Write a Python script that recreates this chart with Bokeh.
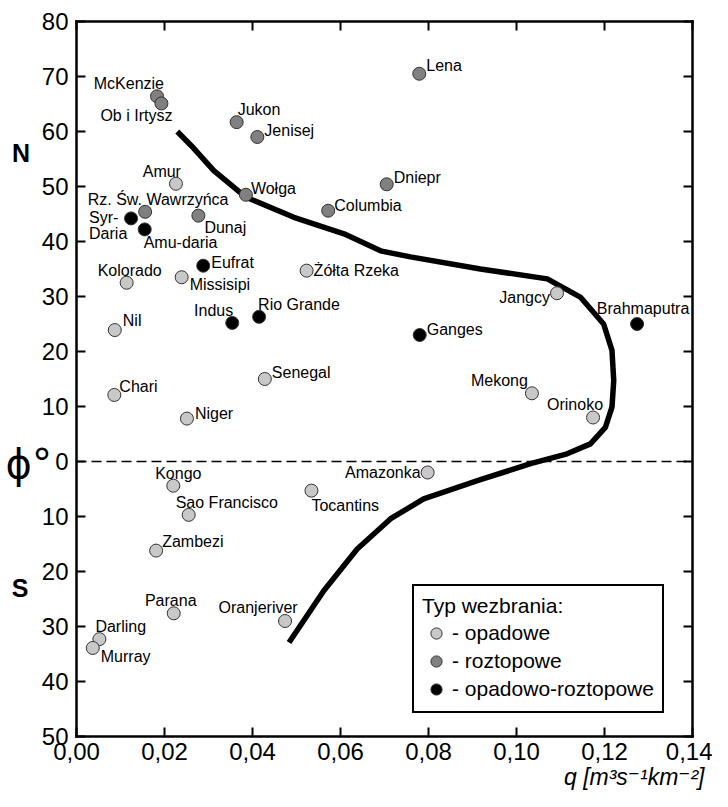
from bokeh.plotting import figure
from bokeh.models import (ColumnDataSource, FixedTicker, LinearAxis, Label,
                          Legend, LegendItem)
from bokeh.core.properties import value
from bokeh.embed import file_html
from bokeh.resources import INLINE

# ---------------- data ----------------
RIVERS = ["McKenzie", "Ob i Irtysz", "Jukon", "Jenisej", "Amur", "Wołga", "Dniepr",
          "Columbia", "Rz. Św. Wawrzyńca", "Syr-\nDaria", "Amu-daria", "Dunaj", "Lena",
          "Eufrat", "Kolorado", "Missisipi", "Żółta Rzeka", "Indus", "Rio Grande", "Nil",
          "Senegal", "Chari", "Niger", "Jangcy", "Brahmaputra", "Ganges", "Mekong",
          "Orinoko", "Amazonka", "Tocantins", "Kongo", "Sao Francisco", "Zambezi",
          "Parana", "Oranjeriver", "Darling", "Murray"]
Q = [0.0183, 0.0193, 0.0364, 0.0411, 0.0226, 0.0385, 0.0705,
     0.0572, 0.0156, 0.0124, 0.0155, 0.0277, 0.0779,
     0.0288, 0.0114, 0.0239, 0.0523, 0.0354, 0.0415, 0.0087,
     0.0428, 0.0086, 0.0251, 0.1092, 0.1274, 0.0780, 0.1035,
     0.1174, 0.0798, 0.0534, 0.0220, 0.0255, 0.0181,
     0.0221, 0.0474, 0.0052, 0.0037]
LAT = [66.4, 65.1, 61.7, 59.0, 50.5, 48.5, 50.4,
       45.6, 45.4, 44.2, 42.2, 44.7, 70.5,
       35.6, 32.5, 33.5, 34.7, 25.2, 26.3, 23.9,
       15.0, 12.1, 7.8, 30.6, 25.0, 23.0, 12.4,
       8.0, -2.0, -5.3, -4.4, -9.7, -16.2,
       -27.6, -29.0, -32.3, -33.9]
TYPE = ["roztopowe", "roztopowe", "roztopowe", "roztopowe", "opadowe", "roztopowe", "roztopowe",
        "roztopowe", "roztopowe", "opadowo-roztopowe", "opadowo-roztopowe", "roztopowe", "roztopowe",
        "opadowo-roztopowe", "opadowe", "opadowe", "opadowe", "opadowo-roztopowe", "opadowo-roztopowe", "opadowe",
        "opadowe", "opadowe", "opadowe", "opadowe", "opadowo-roztopowe", "opadowo-roztopowe", "opadowe",
        "opadowe", "opadowe", "opadowe", "opadowe", "opadowe", "opadowe",
        "opadowe", "opadowe", "opadowe", "opadowe"]
TYPES = ["opadowe", "roztopowe", "opadowo-roztopowe"]

CURVE_Q = [0.0229, 0.0267, 0.0312, 0.0384, 0.0494, 0.0608, 0.0691, 0.0759, 0.0918,
           0.1070, 0.1145, 0.1198, 0.1217, 0.1221, 0.1217, 0.1202, 0.1168, 0.1115,
           0.1032, 0.0918, 0.0789, 0.0714, 0.0638, 0.0562, 0.0483]
CURVE_LAT = [60.0, 56.9, 52.9, 48.1, 44.4, 41.4, 38.3, 37.2, 35.0,
             33.2, 29.9, 25.0, 20.2, 14.7, 9.9, 6.2, 3.2, 1.4,
             -0.4, -3.3, -6.8, -10.4, -15.9, -23.5, -32.9]

X_TICKS = [0.0, 0.02, 0.04, 0.06, 0.08, 0.10, 0.12, 0.14]
X_TICK_LABELS = ["0,00", "0,02", "0,04", "0,06", "0,08", "0,10", "0,12", "0,14"]
Y_TICKS = [-50, -40, -30, -20, -10, 0, 10, 20, 30, 40, 50, 60, 70, 80]
Y_TICK_LABELS = ["50", "40", "30", "20", "10", "0", "10", "20", "30", "40", "50", "60", "70", "80"]
EQUATOR = 0

# ---------------- label layout (screen px: align, dx, dy downwards) ----------------
LABEL_POS = {
    "McKenzie": ("right", 7, -13), "Ob i Irtysz": ("right", 11, 12),
    "Jukon": ("left", 1, -13), "Jenisej": ("left", 7, -7), "Amur": ("right", 5, -12.5),
    "Wołga": ("left", 5, -6), "Dniepr": ("left", 7, -7), "Columbia": ("left", 6, -5),
    "Rz. Św. Wawrzyńca": ("center", 13, -12), "Syr-\nDaria": ("left", -42, 7),
    "Amu-daria": ("left", -1, 13), "Dunaj": ("left", 6, 12), "Lena": ("left", 7, -8),
    "Eufrat": ("left", 8, -3), "Kolorado": ("center", 3, -12), "Missisipi": ("left", 8, 7),
    "Żółta Rzeka": ("left", 7, 0), "Indus": ("right", 1, -12), "Rio Grande": ("left", -1, -12.6),
    "Nil": ("left", 8, -10), "Senegal": ("left", 7, -6.5), "Chari": ("left", 5, -8),
    "Niger": ("left", 8, -5), "Jangcy": ("right", -7, 4), "Brahmaputra": ("center", 6, -16),
    "Ganges": ("left", 7, -6), "Mekong": ("right", -4, -13), "Orinoko": ("right", 10, -13),
    "Amazonka": ("right", -7, 0), "Tocantins": ("left", 0, 14.5), "Kongo": ("center", 5, -12),
    "Sao Francisco": ("left", -13, -12.6), "Zambezi": ("left", 6, -9), "Parana": ("center", -3, -13),
    "Oranjeriver": ("right", 12.6, -14), "Darling": ("left", -4, -13), "Murray": ("left", 8, 9),
}
FILL = {"opadowe": "#c8c8c8", "roztopowe": "#808080", "opadowo-roztopowe": "#000000"}
FONT = "Liberation Sans"

W, H = 712, 791
# frame covers the whole canvas; the chart box is drawn by axes at fixed locations
X0, X1 = X_TICKS[0], X_TICKS[-1]
Y0, Y1 = Y_TICKS[0], Y_TICKS[-1]
PX_L, PX_R, PX_T, PX_B = 76, 692, 21, 736
sx = (X1 - X0) / (PX_R - PX_L)
sy = (Y1 - Y0) / (PX_B - PX_T)
x_range = (X0 - PX_L * sx, X1 + (W - PX_R) * sx)
y_range = (Y0 - (H - PX_B) * sy, Y1 + PX_T * sy)

p = figure(width=W, height=H, x_range=x_range, y_range=y_range,
           output_backend="svg", toolbar_location=None)
p.min_border = 0
p.min_border_left = 0
p.min_border_right = 0
p.min_border_top = 0
p.min_border_bottom = 0
p.xgrid.visible = False
p.ygrid.visible = False
p.background_fill_color = "white"
p.border_fill_color = "white"
p.outline_line_color = None


def style_axis(ax, loc, bounds, labels=True):
    ax.fixed_location = loc
    ax.bounds = bounds
    ax.axis_line_color = "black"
    ax.axis_line_width = 2.5
    ax.axis_line_cap = "square"
    ax.major_tick_in = 9
    ax.major_tick_out = 0
    ax.major_tick_line_width = 2
    ax.major_tick_line_color = "black"
    ax.minor_tick_line_color = None
    ax.major_label_text_font = FONT
    ax.major_label_text_font_size = "24px"
    if labels:
        ax.major_label_text_color = "black"
    else:
        ax.major_label_text_color = None
        ax.major_label_text_alpha = 0


xax = p.xaxis[0]
xax.ticker = FixedTicker(ticks=X_TICKS)
xax.major_label_overrides = dict(zip(X_TICKS, X_TICK_LABELS))
style_axis(xax, Y0, (X0, X1))
xax.major_label_standoff = 6

yax = p.yaxis[0]
yax.ticker = FixedTicker(ticks=Y_TICKS)
yax.major_label_overrides = dict(zip(Y_TICKS, Y_TICK_LABELS))
style_axis(yax, X0, (Y0, Y1))
yax.major_label_standoff = 8

top = LinearAxis(ticker=FixedTicker(ticks=X_TICKS))
style_axis(top, Y1, (X0, X1), labels=False)
p.add_layout(top, "above")
right = LinearAxis(ticker=FixedTicker(ticks=Y_TICKS))
style_axis(right, X1, (Y0, Y1), labels=False)
p.add_layout(right, "right")

# equator (dashed)
p.segment(x0=[X0], y0=[EQUATOR], x1=[X1], y1=[EQUATOR], line_color="black",
          line_width=1.6, line_dash="10 5")

# curve
p.line(CURVE_Q, CURVE_LAT, line_color="black", line_width=5.5, line_join="round")

# points by type
renderers = {}
for t in TYPES:
    idx = [i for i, tt in enumerate(TYPE) if tt == t]
    src = ColumnDataSource(dict(x=[Q[i] for i in idx], y=[LAT[i] for i in idx]))
    renderers[t] = p.scatter("x", "y", source=src, size=13, fill_color=FILL[t],
                             line_color="#333333", line_width=1)

# point labels
lab = ColumnDataSource(dict(
    x=Q, y=LAT, text=RIVERS,
    align=[LABEL_POS[n][0] for n in RIVERS],
    dx=[LABEL_POS[n][1] for n in RIVERS],
    dy=[LABEL_POS[n][2] for n in RIVERS],
))
p.text("x", "y", text="text", source=lab, x_offset="dx", y_offset="dy",
       text_align="align", text_baseline="middle", text_font=value(FONT),
       text_font_size="16px", text_color="black", text_line_height=0.95)


# side labels (screen positions converted to data)
def dx_of(px):
    return X0 + (px - PX_L) * sx


def dy_of(py):
    return Y1 - (py - PX_T) * sy


p.add_layout(Label(x=dx_of(20.5), y=dy_of(152), text="N", text_font=FONT, text_font_size="25px",
                   text_color="black", text_font_style="bold", text_align="center",
                   text_baseline="middle"))
p.add_layout(Label(x=dx_of(19.5), y=dy_of(587), text="S", text_font=FONT, text_font_size="25px",
                   text_color="black", text_font_style="bold", text_align="center",
                   text_baseline="middle"))
p.add_layout(Label(x=dx_of(5), y=dy_of(463), text="ϕ°", text_font="DejaVu Sans",
                   text_font_size="40px", text_color="black",
                   text_align="left", text_baseline="middle"))
p.add_layout(Label(x=dx_of(704), y=dy_of(776), text="q [m³s⁻¹km⁻²]",
                   text_font="Liberation Sans, DejaVu Sans",
                   text_font_size="23px", text_font_style="italic", text_color="black",
                   text_align="right", text_baseline="alphabetic"))

legend = Legend(items=[LegendItem(label="- " + t, renderers=[renderers[t]]) for t in TYPES],
                title="Typ wezbrania:", location=(412, H - 713))
legend.title_text_font = FONT
legend.title_text_font_size = "21px"
legend.title_text_font_style = "normal"
legend.title_text_color = "black"
legend.title_standoff = 1
legend.label_text_font = FONT
legend.label_text_font_size = "21px"
legend.label_text_color = "black"
legend.label_height = 28
legend.glyph_height = 28
legend.glyph_width = 28
legend.label_standoff = 2
legend.spacing = 0
legend.padding = 8
legend.margin = 0
legend.border_line_color = "black"
legend.border_line_alpha = 1
legend.border_line_width = 2
legend.background_fill_color = "white"
legend.background_fill_alpha = 1
p.add_layout(legend, "center")

open("out.html", "w").write(file_html(p, INLINE))
